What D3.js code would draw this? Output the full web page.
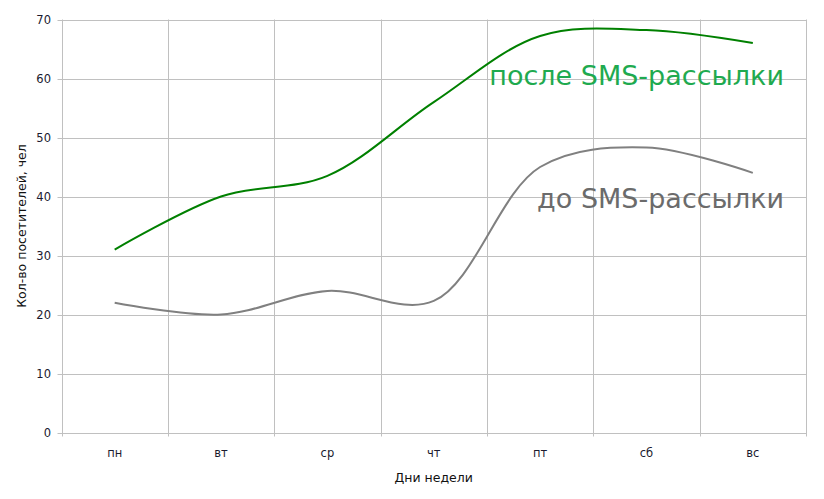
<!DOCTYPE html>
<html>
<head>
<meta charset="utf-8">
<script src="https://d3js.org/d3.v7.min.js"></script>
<style>
  body { margin: 0; background: #fff; }
  svg { display: block; font-family: "DejaVu Sans", Tahoma, sans-serif; }
</style>
</head>
<body>
<div id="chart"></div>
<script>
const days = ["пн", "вт", "ср", "чт", "пт", "сб", "вс"];
const before = [22, 20, 24, 22.3, 45, 48.3, 44];
const after = [31, 40, 43.5, 56, 67.2, 68.2, 66];
const yTicks = [0, 10, 20, 30, 40, 50, 60, 70];
const labelAfter = "после SMS-рассылки";
const labelBefore = "до SMS-рассылки";

const width = 824, height = 499;
const margin = { top: 19.5, right: 18, bottom: 66.5, left: 61.5 };

const svg = d3.select("#chart").append("svg")
    .attr("width", width)
    .attr("height", height);

const x = d3.scaleBand().domain(days).range([margin.left, width - margin.right]).padding(0);
const y = d3.scaleLinear().domain([0, 70]).range([height - margin.bottom, margin.top]);
const gridColor = "#c0c0c0";

// grid
const edges = days.map(d => x(d)).concat([x.range()[1]]);
svg.append("g").selectAll("line").data(edges).join("line")
    .attr("x1", d => Math.round(d) + 0.5).attr("x2", d => Math.round(d) + 0.5)
    .attr("y1", y(70)).attr("y2", y(0) + 4)
    .attr("stroke", gridColor);
svg.append("g").selectAll("line").data(yTicks).join("line")
    .attr("x1", margin.left - 4).attr("x2", x.range()[1])
    .attr("y1", d => Math.round(y(d)) + 0.5).attr("y2", d => Math.round(y(d)) + 0.5)
    .attr("stroke", gridColor);

// tick labels
svg.append("g").selectAll("text").data(yTicks).join("text")
    .attr("x", 51).attr("y", d => y(d) + 4)
    .attr("text-anchor", "end")
    .attr("font-size", 11.5)
    .attr("fill", "#1a1a2e")
    .text(d => d);
svg.append("g").selectAll("text").data(days).join("text")
    .attr("x", d => x(d) + x.bandwidth() / 2).attr("y", 457)
    .attr("text-anchor", "middle")
    .attr("font-size", 11.5)
    .attr("fill", "#1a1a2e")
    .text(d => d);

// axis titles
svg.append("text")
    .attr("x", (margin.left + x.range()[1]) / 2).attr("y", 482)
    .attr("text-anchor", "middle").attr("font-size", 12.5).attr("fill", "#111")
    .text("Дни недели");
svg.append("text")
    .attr("transform", `translate(26,${(y(0) + y(70)) / 2}) rotate(-90)`)
    .attr("text-anchor", "middle").attr("font-size", 12.5).attr("fill", "#111")
    .text("Кол-во посетителей,  чел");

// lines
const line = d3.line()
    .x((d, i) => x(days[i]) + x.bandwidth() / 2)
    .y(d => y(d))
    .curve(d3.curveCatmullRom.alpha(0.5));

svg.append("path").datum(before)
    .attr("fill", "none").attr("stroke", "#808080").attr("stroke-width", 2)
    .attr("d", line);
svg.append("path").datum(after)
    .attr("fill", "none").attr("stroke", "#008000").attr("stroke-width", 2)
    .attr("d", line);

// labels
function fitLabel(text, xEnd, yBase, w, color) {
    const t = svg.append("text")
        .attr("x", xEnd).attr("y", yBase)
        .attr("text-anchor", "end")
        .attr("font-size", 24)
        .attr("fill", color)
        .text(text);
    const len = t.node().getComputedTextLength();
    t.attr("font-size", 24 * w / len);
}
fitLabel(labelAfter, 784, 85, 295, "#1faa4f");
fitLabel(labelBefore, 784, 208, 247, "#6b6b6b");
</script>
</body>
</html>
